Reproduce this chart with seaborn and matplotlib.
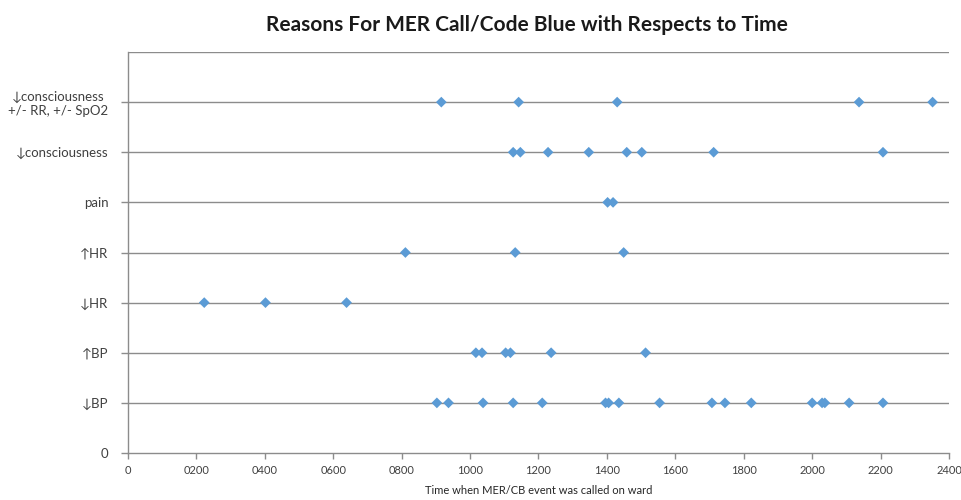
import numpy as np
import pandas as pd
import seaborn as sns
import matplotlib.pyplot as plt

# reasons, bottom to top
reasons = ['↓BP', '↑BP', '↓HR', '↑HR', 'pain', '↓consciousness',
           '↓consciousness\n+/- RR, +/- SpO2']

# times (24h clock)
bp_down = [903, 937, 1038, 1126, 1211, 1396, 1405, 1435, 1554, 1707, 1745,
           1822, 2000, 2029, 2037, 2108, 2207]
bp_up = [1017, 1035, 1104, 1118, 1237, 1513]
hr_down = [223, 402, 639]
hr_up = [811, 1132, 1449]
pain = [1402, 1418]
conscious = [1126, 1147, 1228, 1347, 1458, 1502, 1712, 2207]
conscious_rr = [916, 1142, 1430, 2137, 2352]

x_ticks = [0, 200, 400, 600, 800, 1000, 1200, 1400, 1600, 1800, 2000, 2200, 2400]
x_labels = ['0', '0200', '0400', '0600', '0800', '1000', '1200', '1400',
            '1600', '1800', '2000', '2200', '2400']

series = [bp_down, bp_up, hr_down, hr_up, pain, conscious, conscious_rr]
rows = []
for i, times in enumerate(series):
    for t in times:
        rows.append({'time': t, 'reason': i + 1})
df = pd.DataFrame(rows)

sns.set_style('white')
plt.rcParams['font.family'] = ['Lato', 'DejaVu Sans']

fig = plt.figure(figsize=(9.62, 5.0), dpi=100)
ax = fig.add_axes([0.133, 0.094, 0.8535, 0.802])

ax.set_axisbelow(True)
for yv in range(1, 9):
    ax.axhline(yv, color='#8c8c8c', linewidth=1, zorder=0)

sns.scatterplot(data=df, x='time', y='reason', marker='D', s=30,
                color='#5b9bd5', edgecolor='none', ax=ax, zorder=3)

ax.set_xlim(0, 2400)
ax.set_ylim(0, 8)
ax.set_xticks(x_ticks)
ax.set_xticklabels(x_labels, fontsize=8, color='#404040')
ax.set_yticks(range(0, 8))
ax.set_yticklabels(['0'] + reasons, fontsize=9.5, color='#404040',
                   multialignment='center')
ax.tick_params(axis='x', bottom=True, direction='out', length=4, width=1,
               color='#8c8c8c', pad=5)
ax.tick_params(axis='y', left=True, direction='out', length=5, width=1,
               color='#8c8c8c', pad=9)

for side in ['top', 'right']:
    ax.spines[side].set_visible(False)
for side in ['left', 'bottom']:
    ax.spines[side].set_color('#8c8c8c')
    ax.spines[side].set_linewidth(1)

ax.set_xlabel('Time when MER/CB event was called on ward', fontsize=8,
              color='#262626', labelpad=6)
ax.set_ylabel('')
fig.suptitle('Reasons For MER Call/Code Blue with Respects to Time',
             x=0.548, y=0.97, fontsize=15, fontweight='bold', color='#1a1a1a')

fig.savefig('out.png', dpi=100)
